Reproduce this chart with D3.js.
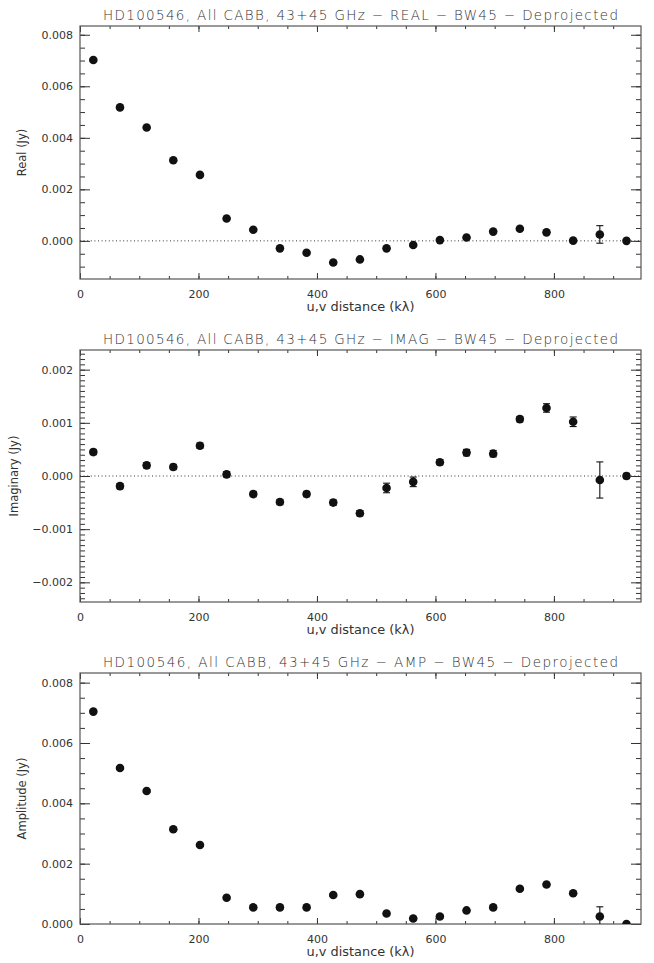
<!DOCTYPE html>
<html>
<head>
<meta charset="utf-8">
<script src="https://cdn.jsdelivr.net/npm/d3@7"></script>
<style>
    body { margin: 0; background: #fff; }
    text { font-family: "DejaVu Sans", sans-serif; fill: #333; }
</style>
</head>
<body>
<svg id="drawing_region"></svg>
<script>
// bin centres (k lambda)
const uvDist = [22.5, 67.5, 112.5, 157.5, 202.5, 247.5, 292.5, 337.5, 382.5, 427.5, 472.5,
                517.5, 562.5, 607.5, 652.5, 697.5, 742.5, 787.5, 832.5, 877.5, 922.5];

const realVals = [0.00702, 0.00518, 0.00440, 0.00313, 0.00256, 0.00087, 0.00043, -0.00029, -0.00046, -0.00084, -0.00072,
                  -0.00029, -0.00016, 0.00003, 0.00013, 0.00036, 0.00047, 0.00033, 0.00001, 0.00025, 0.00000];
const realErr  = [0.00004, 0.00004, 0.00004, 0.00004, 0.00004, 0.00004, 0.00004, 0.00004, 0.00004, 0.00004, 0.00004,
                  0.00004, 0.00004, 0.00004, 0.00004, 0.00004, 0.00004, 0.00004, 0.00005, 0.00034, 0.00004];

const imagVals = [0.00045, -0.00019, 0.00020, 0.00017, 0.00057, 0.00003, -0.00034, -0.00049, -0.00034, -0.00050, -0.00070,
                  -0.000225, -0.00011, 0.00026, 0.00044, 0.00042, 0.00107, 0.00128, 0.00102, -0.000075, 0.00000];
const imagErr  = [0.00005, 0.00005, 0.00005, 0.00005, 0.00005, 0.00005, 0.00005, 0.00005, 0.00005, 0.00005, 0.00005,
                  0.00009, 0.00009, 0.00005, 0.00006, 0.00006, 0.00005, 0.00008, 0.00009, 0.00034, 0.00005];

const ampVals = [0.00704, 0.00517, 0.00441, 0.00314, 0.00262, 0.00087, 0.00055, 0.00055, 0.00055, 0.00096, 0.00099,
                 0.00035, 0.00018, 0.00025, 0.00045, 0.00055, 0.00117, 0.00131, 0.00102, 0.00025, 0.00000];
const ampErr  = [0.00005, 0.00005, 0.00005, 0.00005, 0.00005, 0.00005, 0.00005, 0.00005, 0.00005, 0.00005, 0.00005,
                 0.00005, 0.00005, 0.00005, 0.00005, 0.00005, 0.00005, 0.00005, 0.00005, 0.00032, 0.00005];

const xTicks = [0, 200, 400, 600, 800];
const yTicksFlux = [0.000, 0.002, 0.004, 0.006, 0.008];
const yTicksImag = [-0.002, -0.001, 0.000, 0.001, 0.002];

const titles = [
    "HD100546, All CABB, 43+45 GHz \u2212 REAL \u2212 BW45 \u2212 Deprojected",
    "HD100546, All CABB, 43+45 GHz \u2212 IMAG \u2212 BW45 \u2212 Deprojected",
    "HD100546, All CABB, 43+45 GHz \u2212 AMP \u2212 BW45 \u2212 Deprojected"
];
const xLabel = "u,v distance (k\u03bb)";

const svgRoot = d3.select('#drawing_region')
    .attr('width', 654)
    .attr('height', 963);

class ScatterPanel {

    constructor( config, x, y, err ) {
        this.config = config;
        this.data = x.map( (d, i) => ({ x: d, y: y[i], e: err[i] }) );
        this.init();
    }

    init() {
        let self = this;
        let c = self.config;

        self.g = svgRoot.append('g');

        self.xscale = d3.scaleLinear()
            .domain([0, 947])
            .range([c.left, c.right]);

        self.yscale = d3.scaleLinear()
            .domain(c.ydomain)
            .range([c.bottom, c.top]);

        self.clipId = 'clip' + c.id;
        self.g.append('clipPath')
            .attr('id', self.clipId)
            .append('rect')
            .attr('x', c.left)
            .attr('y', c.top)
            .attr('width', c.right - c.left)
            .attr('height', c.bottom - c.top);
    }

    render() {
        let self = this;
        let c = self.config;
        let fmt = d3.format('.3f');
        let xMinor = d3.range(0, 19).map( i => i * 50 );

        const clean = g => {
            g.select('.domain').remove();
            g.selectAll('line').attr('stroke', '#333').attr('stroke-width', 1);
            g.selectAll('text').attr('font-size', 11).attr('fill', '#333')
                .attr('font-family', '"DejaVu Sans", sans-serif');
        };

        // bottom axis
        self.g.append('g')
            .attr('transform', `translate(0, ${c.bottom})`)
            .call( d3.axisBottom(self.xscale).tickValues(xMinor).tickSize(-3).tickFormat('') )
            .call(clean);
        self.g.append('g')
            .attr('transform', `translate(0, ${c.bottom})`)
            .call( d3.axisBottom(self.xscale).tickValues(xTicks).tickSize(-6).tickPadding(11).tickFormat(d3.format('d')) )
            .call(clean);

        // top axis
        self.g.append('g')
            .attr('transform', `translate(0, ${c.top})`)
            .call( d3.axisTop(self.xscale).tickValues(xMinor).tickSize(-3).tickFormat('') )
            .call(clean);
        self.g.append('g')
            .attr('transform', `translate(0, ${c.top})`)
            .call( d3.axisTop(self.xscale).tickValues(xTicks).tickSize(-6).tickFormat('') )
            .call(clean);

        // left axis
        self.g.append('g')
            .attr('transform', `translate(${c.left}, 0)`)
            .call( d3.axisLeft(self.yscale).tickValues(c.yminor).tickSize(-5).tickFormat('') )
            .call(clean);
        self.g.append('g')
            .attr('transform', `translate(${c.left}, 0)`)
            .call( d3.axisLeft(self.yscale).tickValues(c.yticks).tickSize(-10).tickPadding(7).tickFormat(fmt) )
            .call(clean);

        // right axis
        self.g.append('g')
            .attr('transform', `translate(${c.right}, 0)`)
            .call( d3.axisRight(self.yscale).tickValues(c.yminor).tickSize(-5).tickFormat('') )
            .call(clean);
        self.g.append('g')
            .attr('transform', `translate(${c.right}, 0)`)
            .call( d3.axisRight(self.yscale).tickValues(c.yticks).tickSize(-10).tickFormat('') )
            .call(clean);

        // frame
        self.g.append('rect')
            .attr('x', c.left)
            .attr('y', c.top)
            .attr('width', c.right - c.left)
            .attr('height', c.bottom - c.top)
            .attr('fill', 'none')
            .attr('stroke', '#555')
            .attr('stroke-width', 1.2);

        if (c.zeroLine) {
            self.g.append('line')
                .attr('x1', c.left)
                .attr('x2', c.right)
                .attr('y1', self.yscale(0))
                .attr('y2', self.yscale(0))
                .attr('stroke', '#333')
                .attr('stroke-width', 1)
                .attr('stroke-dasharray', '1,2.6');
        }

        let marks = self.g.append('g')
            .attr('clip-path', `url(#${self.clipId})`);

        // error bars
        let eb = marks.selectAll('g.err')
            .data(self.data)
            .enter()
            .append('g')
            .attr('class', 'err')
            .attr('stroke', '#111')
            .attr('stroke-width', 1.1);
        eb.append('line')
            .attr('x1', d => self.xscale(d.x))
            .attr('x2', d => self.xscale(d.x))
            .attr('y1', d => self.yscale(d.y - d.e))
            .attr('y2', d => self.yscale(d.y + d.e));
        eb.append('line')
            .attr('x1', d => self.xscale(d.x) - 3.5)
            .attr('x2', d => self.xscale(d.x) + 3.5)
            .attr('y1', d => self.yscale(d.y + d.e))
            .attr('y2', d => self.yscale(d.y + d.e));
        eb.append('line')
            .attr('x1', d => self.xscale(d.x) - 3.5)
            .attr('x2', d => self.xscale(d.x) + 3.5)
            .attr('y1', d => self.yscale(d.y - d.e))
            .attr('y2', d => self.yscale(d.y - d.e));

        marks.selectAll('circle')
            .data(self.data)
            .enter()
            .append('circle')
            .attr('cx', d => self.xscale(d.x))
            .attr('cy', d => self.yscale(d.y))
            .attr('r', 4.3)
            .attr('fill', '#111');

        // texts
        self.g.append('text')
            .attr('x', (c.left + c.right) / 2)
            .attr('y', c.top - 6)
            .attr('text-anchor', 'middle')
            .attr('font-size', 13.5)
            .attr('font-weight', 300)
            .attr('textLength', 515)
            .attr('lengthAdjust', 'spacing')
            .text(c.title);

        self.g.append('text')
            .attr('x', (c.left + c.right) / 2)
            .attr('y', c.bottom + 32)
            .attr('text-anchor', 'middle')
            .attr('font-size', 11.5)
            .attr('textLength', 108)
            .attr('lengthAdjust', 'spacingAndGlyphs')
            .text(xLabel);

        self.g.append('text')
            .attr('transform', `translate(${c.ylabelX}, ${(c.top + c.bottom) / 2}) rotate(-90)`)
            .attr('text-anchor', 'middle')
            .attr('font-size', 11.5)
            .text(c.ylabel);
    }
}

const panels = [
    new ScatterPanel({
        id: 1, left: 80, right: 641, top: 26, bottom: 279,
        ydomain: [-0.00148, 0.00834],
        yticks: yTicksFlux,
        yminor: d3.range(-2, 17).map( i => i * 0.0005 ),
        zeroLine: true,
        title: titles[0], ylabel: "Real (Jy)", ylabelX: 26
    }, uvDist, realVals, realErr),
    new ScatterPanel({
        id: 2, left: 80, right: 641, top: 350, bottom: 602,
        ydomain: [-0.00237, 0.00237],
        yticks: yTicksImag,
        yminor: d3.range(-23, 24).map( i => i * 0.0001 ),
        zeroLine: true,
        title: titles[1], ylabel: "Imaginary (Jy)", ylabelX: 18
    }, uvDist, imagVals, imagErr),
    new ScatterPanel({
        id: 3, left: 80, right: 641, top: 673, bottom: 924,
        ydomain: [0, 0.00832],
        yticks: yTicksFlux,
        yminor: d3.range(0, 17).map( i => i * 0.0005 ),
        zeroLine: false,
        title: titles[2], ylabel: "Amplitude (Jy)", ylabelX: 26
    }, uvDist, ampVals, ampErr)
];

panels.forEach( p => p.render() );
</script>
</body>
</html>
